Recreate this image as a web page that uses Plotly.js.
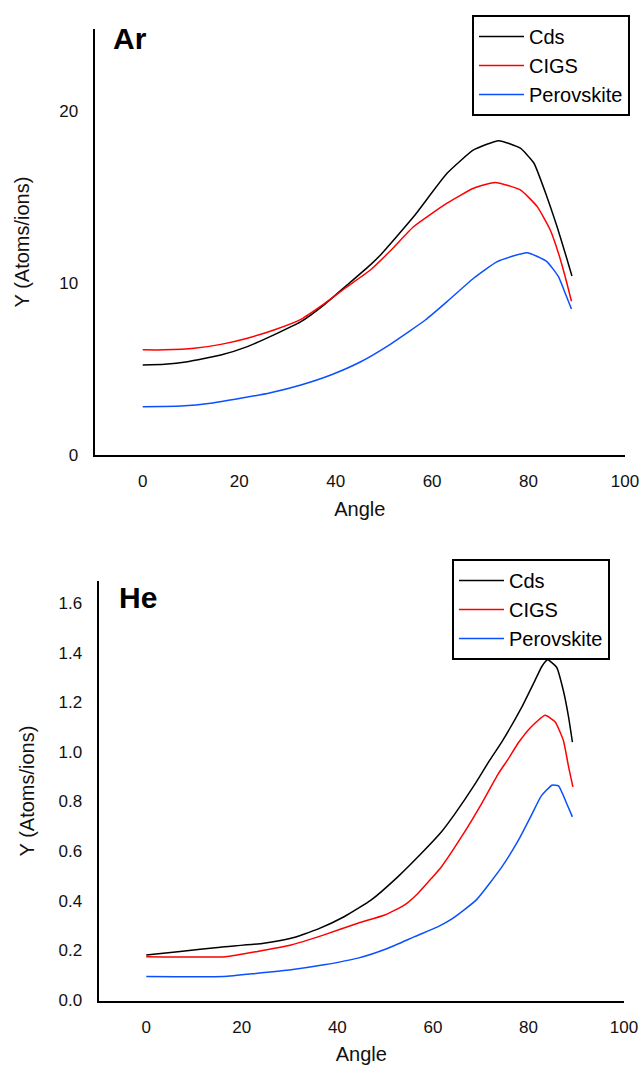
<!DOCTYPE html>
<html>
<head>
<meta charset="utf-8">
<script src="https://cdn.plot.ly/plotly-3.0.1.min.js"></script>
<style>html,body{margin:0;padding:0;background:#fff;}#chart{width:640px;height:1065px;}</style>
</head>
<body>
<div id="chart"></div>
<script>
// ---- Ar panel data ----
const arCdsX = [0, 4.5, 9.3, 16.2, 21.7, 27.2, 32.8, 37.6, 42.4, 47.2, 49.5, 56.2, 63.1, 68.6, 73.8, 78.3, 81.1, 83.8, 85.9, 87.6, 89];
const arCdsY = [5.24, 5.28, 5.43, 5.82, 6.31, 6.99, 7.76, 8.74, 9.9, 11.07, 11.7, 13.88, 16.4, 17.76, 18.3, 17.86, 17.0, 15.04, 13.3, 11.75, 10.42];
const arCigsX = [0, 4.5, 10.7, 16.2, 21.7, 27.2, 32.8, 37.6, 42.4, 47.2, 51.4, 56.2, 63.1, 68.6, 73.1, 78.3, 81.8, 84.5, 86.2, 87.6, 88.9];
const arCigsY = [6.12, 6.12, 6.21, 6.44, 6.8, 7.28, 7.9, 8.8, 9.8, 10.77, 11.9, 13.3, 14.66, 15.53, 15.87, 15.43, 14.46, 13.1, 11.75, 10.38, 8.95];
const arPeroX = [0, 7.9, 14.1, 20.3, 26.5, 32.8, 39, 45.2, 51.4, 58.6, 63.1, 68.6, 73.5, 79.7, 83.8, 86.2, 87.6, 88.9];
const arPeroY = [2.81, 2.85, 3.01, 3.3, 3.63, 4.08, 4.66, 5.43, 6.46, 7.86, 8.93, 10.29, 11.26, 11.78, 11.26, 10.38, 9.42, 8.5];

// ---- He panel data ----
const heCdsX = [0, 7.1, 15.5, 24.6, 30.3, 35.9, 41.5, 47.1, 52.7, 57.6, 61.8, 64.6, 68.8, 71.9, 74.4, 78.6, 81.4, 82.8, 84.0, 85.9, 87.3, 88.4, 89.2];
const heCdsY = [0.181, 0.195, 0.212, 0.228, 0.248, 0.285, 0.336, 0.403, 0.497, 0.591, 0.678, 0.75, 0.87, 0.967, 1.04, 1.181, 1.29, 1.345, 1.372, 1.342, 1.248, 1.141, 1.04];
const heCigsX = [0, 16.6, 23.3, 30.3, 37.2, 44.3, 49.9, 54.1, 56.9, 59.7, 61.8, 66.0, 70.2, 73.7, 75.6, 78.0, 80.5, 83.5, 85.6, 87.3, 88.4, 89.3];
const heCigsY = [0.174, 0.174, 0.195, 0.221, 0.262, 0.309, 0.342, 0.383, 0.43, 0.49, 0.537, 0.658, 0.792, 0.913, 0.967, 1.04, 1.1, 1.148, 1.121, 1.047, 0.94, 0.859];
const hePeroX = [0, 16.2, 23.3, 30.3, 37.2, 44.3, 50.6, 56.2, 61.1, 63.9, 69.1, 74.4, 77.9, 80.7, 82.6, 84.9, 86.3, 88.0, 89.2];
const hePeroY = [0.094, 0.094, 0.107, 0.121, 0.141, 0.168, 0.208, 0.255, 0.295, 0.325, 0.403, 0.535, 0.644, 0.748, 0.82, 0.866, 0.863, 0.792, 0.738];

const seriesNames = ['Cds', 'CIGS', 'Perovskite'];
const seriesColors = ['#000000', '#ff0000', '#0a50ff'];
const panelLabels = ['Ar', 'He'];
const xTitle = 'Angle';
const yTitle = 'Y (Atoms/ions)';

const FONT = 'Liberation Sans, Arial, sans-serif';

function tr(x, y, i, xa, ya, leg) {
  return {x: x, y: y, type: 'scatter', mode: 'lines', name: seriesNames[i],
    line: {color: seriesColors[i], width: 1.5, shape: 'spline', smoothing: 0.45},
    xaxis: xa, yaxis: ya, legend: leg};
}

const data = [
  tr(arCdsX, arCdsY, 0, 'x', 'y', 'legend'),
  tr(arCigsX, arCigsY, 1, 'x', 'y', 'legend'),
  tr(arPeroX, arPeroY, 2, 'x', 'y', 'legend'),
  tr(heCdsX, heCdsY, 0, 'x2', 'y2', 'legend2'),
  tr(heCigsX, heCigsY, 1, 'x2', 'y2', 'legend2'),
  tr(hePeroX, hePeroY, 2, 'x2', 'y2', 'legend2')
];

const W = 640, H = 1065;
function px(v) { return v / W; }
function py(v) { return 1 - v / H; }

const axCommon = {showline: true, linecolor: '#000', linewidth: 2, showgrid: false, zeroline: false,
  ticks: '', tickfont: {family: FONT, size: 17, color: '#111'}, automargin: false, fixedrange: true};

const legCommon = {xanchor: 'left', yanchor: 'top', bgcolor: '#fff', bordercolor: '#000', borderwidth: 2,
  font: {family: FONT, size: 20, color: '#000'}, tracegroupgap: 0, itemwidth: 45};

const layout = {
  width: W, height: H,
  margin: {l: 0, r: 0, t: 0, b: 0},
  paper_bgcolor: '#fff', plot_bgcolor: '#fff',
  font: {family: FONT, color: '#111'},
  showlegend: true,
  xaxis: Object.assign({}, axCommon, {domain: [px(94.5), px(625)], range: [-10, 100], dtick: 20, tick0: 0,
    anchor: 'y', ticklabelstandoff: 10,
    title: {text: xTitle, font: {family: FONT, size: 20, color: '#111'}, standoff: 12}}),
  yaxis: Object.assign({}, axCommon, {domain: [py(455), py(29)], range: [0, 24.8], dtick: 10, tick0: 0,
    anchor: 'x', ticklabelstandoff: 11,
    title: {text: yTitle, font: {family: FONT, size: 20, color: '#111'}, standoff: 24}}),
  xaxis2: Object.assign({}, axCommon, {domain: [px(98.5), px(624)], range: [-10, 100], dtick: 20, tick0: 0,
    anchor: 'y2', ticklabelstandoff: 10,
    title: {text: xTitle, font: {family: FONT, size: 20, color: '#111'}, standoff: 14}}),
  yaxis2: Object.assign({}, axCommon, {domain: [py(1001), py(581)], range: [-0.005, 1.69], dtick: 0.2, tick0: 0,
    tickformat: '.1f', anchor: 'x2', ticklabelstandoff: 11,
    title: {text: yTitle, font: {family: FONT, size: 20, color: '#111'}, standoff: 18}}),
  legend: Object.assign({}, legCommon, {x: px(472), y: py(15)}),
  legend2: Object.assign({}, legCommon, {x: px(452), y: py(559)}),
  annotations: [
    {text: '<b>' + panelLabels[0] + '</b>', xref: 'paper', yref: 'paper', x: px(111), y: py(38),
      xanchor: 'left', yanchor: 'middle', showarrow: false, font: {family: FONT, size: 30, color: '#000'}},
    {text: '<b>' + panelLabels[1] + '</b>', xref: 'paper', yref: 'paper', x: px(117), y: py(597),
      xanchor: 'left', yanchor: 'middle', showarrow: false, font: {family: FONT, size: 30, color: '#000'}}
  ]
};

Plotly.newPlot('chart', data, layout, {displayModeBar: false, staticPlot: true});
</script>
</body>
</html>
